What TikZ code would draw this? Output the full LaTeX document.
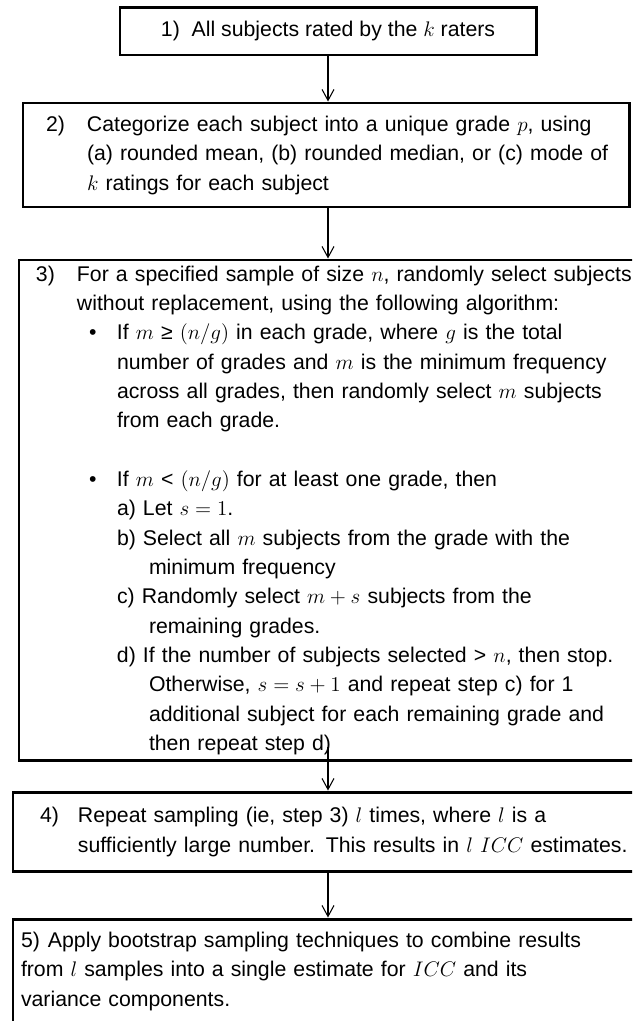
\documentclass[tikz,border=0pt]{standalone}
\usepackage{fontspec}
\setmainfont{Liberation Sans}
\usepackage{tikz}
\usetikzlibrary{calc,arrows.meta,positioning}
\tikzset{
  stepbox/.style={draw=black, line width=1.7pt, rectangle, inner ysep=0pt, align=left},
  arr/.style={-{Straight Barb[length=2.2mm,width=2.4mm]}, line width=0.6pt}
}

\begin{document}
\begin{tikzpicture}[font=\fontsize{12.1pt}{16.7pt}\selectfont]
  \useasboundingbox (0,0) rectangle (12.64,-20.42);
  \clip (0,0) rectangle (12.64,-20.42);

  \node[stepbox, align=center, minimum width=8.32cm, minimum height=0.94cm] (s1) at (6.56,-0.63)
    {1)\ \ All subjects rated by the $k$ raters};

  \node[stepbox, minimum width=12.13cm, minimum height=2.08cm, inner xsep=0.46cm, text width=11.21cm] (s2) at (6.525,-3.10)
    {\begin{tabular}{@{}p{0.82cm}@{}l@{}}
     2) & Categorize each subject into a unique grade $p$, using\\
        & (a) rounded mean, (b) rounded median, or (c) mode of\\
        & $k$ ratings for each subject
     \end{tabular}};

  \node[stepbox, minimum width=12.82cm, minimum height=10.0cm, inner xsep=0.34cm, text width=12.14cm] (s3) at (6.79,-10.20)
    {\begin{tabular}{@{}p{0.82cm}@{}l@{}}
     3) & For a specified sample of size $n$, randomly select subjects\\
        & without replacement, using the following algorithm:\\
        & \hspace*{0.24cm}\makebox[0.56cm][l]{\textbullet}If $m$ ≥ $(n/g)$ in each grade, where $g$ is the total\\
        & \hspace*{0.80cm}number of grades and $m$ is the minimum frequency\\
        & \hspace*{0.80cm}across all grades, then randomly select $m$ subjects\\
        & \hspace*{0.80cm}from each grade.\\
        & \\
        & \hspace*{0.24cm}\makebox[0.56cm][l]{\textbullet}If $m$ < $(n/g)$ for at least one grade, then\\
        & \hspace*{0.80cm}a) Let $s=1$.\\
        & \hspace*{0.80cm}b) Select all $m$ subjects from the grade with the\\
        & \hspace*{1.44cm}minimum frequency\\
        & \hspace*{0.80cm}c) Randomly select $m+s$ subjects from the\\
        & \hspace*{1.44cm}remaining grades.\\
        & \hspace*{0.80cm}d) If the number of subjects selected > $n$, then stop.\\
        & \hspace*{1.44cm}Otherwise, $s=s+1$ and repeat step c) for 1\\
        & \hspace*{1.44cm}additional subject for each remaining grade and\\
        & \hspace*{1.44cm}then repeat step d)
     \end{tabular}};

  \node[stepbox, minimum width=12.94cm, minimum height=1.58cm, inner xsep=0.54cm, text width=11.86cm] (s4) at (6.73,-16.63)
    {\begin{tabular}{@{}p{0.76cm}@{}l@{}}
     4) & Repeat sampling (ie, step 3) $l$ times, where $l$ is a\\
        & sufficiently large number. This results in $l$ $ICC$ estimates.
     \end{tabular}};

  \node[stepbox, minimum width=12.94cm, minimum height=2.08cm, inner xsep=0.16cm, text width=12.62cm] (s5) at (6.73,-19.42)
    {\begin{tabular}{@{}l@{}}
     \makebox[0.54cm][l]{5)}Apply bootstrap sampling techniques to combine results\\
     from $l$ samples into a single estimate for $ICC$ and its\\
     variance components.
     \end{tabular}};

  \draw[arr] (s1.south) -- (s1.south |- s2.north);
  \draw[arr] (s1.south |- s2.south) -- (s1.south |- s3.north);
  \draw[arr] ([yshift=0.3cm]s1.south |- s3.south) -- (s1.south |- s4.north);
  \draw[arr] (s1.south |- s4.south) -- (s1.south |- s5.north);
\end{tikzpicture}
\end{document}
